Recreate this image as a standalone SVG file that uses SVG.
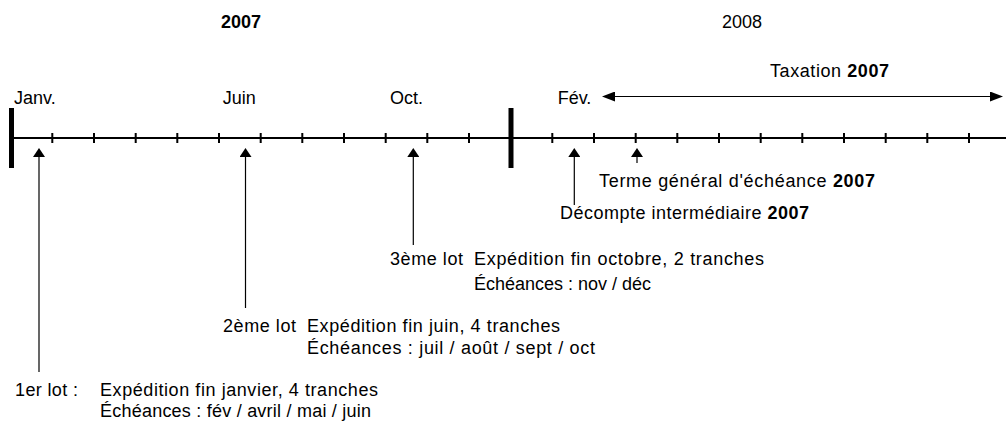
<svg xmlns="http://www.w3.org/2000/svg" width="1006" height="423" viewBox="0 0 1006 423">
  <style>
    text { font-family: "Liberation Sans", Arial, sans-serif; font-size: 18px; fill: #000; }
    .b { font-weight: bold; }
    .axis { stroke: #000; stroke-width: 2; fill: none; }
    .bar { stroke: #000; stroke-width: 5; }
    .tick { stroke: #000; stroke-width: 2; }
    .conn { stroke: #000; stroke-width: 1.2; fill: none; }
  </style>
  <defs>
    <marker id="ah" viewBox="0 0 9 12" refX="0" refY="6" markerWidth="9" markerHeight="12" markerUnits="userSpaceOnUse" orient="auto">
      <path d="M0,0 L9,6 L0,12 z" fill="#000"/>
    </marker>
    <marker id="ah2" viewBox="0 0 13 10" refX="0" refY="5" markerWidth="13" markerHeight="10" markerUnits="userSpaceOnUse" orient="auto-start-reverse">
      <path d="M0,0 L13,5 L0,10 z" fill="#000"/>
    </marker>
  </defs>

  <g id="years">
    <text x="241" y="28" text-anchor="middle" class="b">2007</text>
    <text x="742" y="28" text-anchor="middle">2008</text>
  </g>

  <g id="timeline">
    <line class="axis" x1="10" y1="138" x2="1006" y2="138"/>
    <line class="bar" x1="11.5" y1="108" x2="11.5" y2="168"/>
    <line class="bar" x1="511" y1="108" x2="511" y2="168"/>
    <path class="tick" d="M52.3,133V143 M94,133V143 M135.7,133V143 M177.3,133V143 M219,133V143 M260.7,133V143 M302.3,133V143 M344,133V143 M385.7,133V143 M427.3,133V143 M469,133V143 M552.3,133V143 M594,133V143 M635.7,133V143 M677.3,133V143 M719,133V143 M760.7,133V143 M802.3,133V143 M844,133V143 M885.7,133V143 M927.3,133V143 M969,133V143"/>
  </g>

  <g id="months">
    <text x="14" y="104">Janv.</text>
    <text x="222.7" y="104">Juin</text>
    <text x="390" y="104">Oct.</text>
    <text x="557.7" y="104">Fév.</text>
  </g>

  <g id="taxation">
    <text x="770" y="77" textLength="119" lengthAdjust="spacing">Taxation <tspan class="b">2007</tspan></text>
  </g>

  <g id="lot1">
    <text x="15" y="396" textLength="63" lengthAdjust="spacing">1er lot :</text>
    <text x="100" y="396" textLength="278" lengthAdjust="spacing">Expédition fin janvier, 4 tranches</text>
    <text x="100" y="417" textLength="271" lengthAdjust="spacing">Échéances : fév / avril / mai / juin</text>
  </g>

  <g id="lot2">
    <text x="223" y="332" textLength="73" lengthAdjust="spacing">2ème lot</text>
    <text x="307" y="332" textLength="253" lengthAdjust="spacing">Expédition fin juin, 4 tranches</text>
    <text x="307" y="354" textLength="288" lengthAdjust="spacing">Échéances : juil / août / sept / oct</text>
  </g>

  <g id="lot3">
    <text x="390" y="265" textLength="73" lengthAdjust="spacing">3ème lot</text>
    <text x="474" y="265" textLength="290" lengthAdjust="spacing">Expédition fin octobre, 2 tranches</text>
    <text x="474" y="290">Échéances : nov / déc</text>
  </g>

  <g id="terme">
    <text x="599" y="187" textLength="276" lengthAdjust="spacing">Terme général d'échéance <tspan class="b">2007</tspan></text>
  </g>

  <g id="decompte">
    <text x="560" y="219" textLength="249" lengthAdjust="spacing">Décompte intermédiaire <tspan class="b">2007</tspan></text>
  </g>

  <g id="connectors">
    <line class="conn" x1="39" y1="372" x2="39" y2="157" marker-end="url(#ah)"/>
    <line class="conn" x1="245.5" y1="308" x2="245.5" y2="157" marker-end="url(#ah)"/>
    <line class="conn" x1="413.3" y1="245" x2="413.3" y2="157" marker-end="url(#ah)"/>
    <line class="conn" x1="574.3" y1="205" x2="574.3" y2="157" marker-end="url(#ah)"/>
    <line class="conn" x1="637" y1="163" x2="637" y2="157" marker-end="url(#ah)"/>
    <line class="conn" x1="615" y1="96.5" x2="990" y2="96.5" marker-start="url(#ah2)" marker-end="url(#ah2)"/>
  </g>
</svg>
